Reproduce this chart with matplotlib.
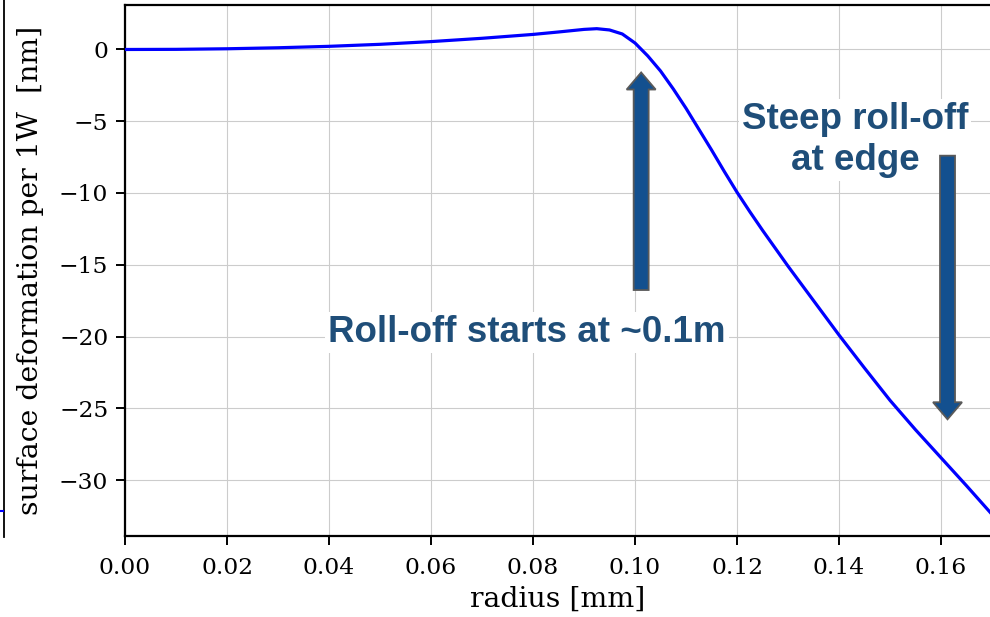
import matplotlib
matplotlib.use("Agg")
import matplotlib.pyplot as plt
from matplotlib.patches import FancyArrow
from matplotlib.lines import Line2D

# data
radius_mm = [0, 0.01, 0.02, 0.03, 0.04, 0.05, 0.06, 0.07, 0.08, 0.085, 0.09,
             0.0925, 0.095, 0.0975, 0.1, 0.1025, 0.105, 0.1075, 0.11, 0.1125,
             0.115, 0.1175, 0.12, 0.1225, 0.125, 0.13, 0.135, 0.14, 0.145, 0.15,
             0.155, 0.16, 0.165, 0.17]
deformation_nm = [0, 0.01, 0.05, 0.12, 0.22, 0.36, 0.55, 0.78, 1.05, 1.22, 1.40,
                  1.45, 1.36, 1.08, 0.45, -0.45, -1.5, -2.75, -4.1, -5.55,
                  -7.0, -8.5, -9.95, -11.3, -12.6, -15.1, -17.5, -19.9, -22.2, -24.45,
                  -26.5, -28.45, -30.4, -32.4]
xticks = [0.00, 0.02, 0.04, 0.06, 0.08, 0.10, 0.12, 0.14, 0.16]
yticks = [0, -5, -10, -15, -20, -25, -30]

text_color = "#1f4e79"
arrow_color = "#13508f"

fig = plt.figure(figsize=(9.9, 6.17), dpi=100)
ax = fig.add_axes([0.1263, 0.1313, 0.8737, 0.8606])

ax.plot(radius_mm, deformation_nm, color="#0000ff", lw=2.3, zorder=3)
ax.set_xlim(0, 0.1696)
ax.set_ylim(-33.9, 3.1)
ax.set_xticks(xticks)
ax.set_xticklabels([f"{v:.2f}" for v in xticks])
ax.set_yticks(yticks)
ax.set_yticklabels([f"{v:d}".replace("-", "\u2212") for v in yticks])
ax.grid(True, color="#cccccc", lw=0.8)
ax.set_axisbelow(True)
for s in ["left", "bottom", "top"]:
    ax.spines[s].set_linewidth(1.6)
ax.spines["right"].set_visible(False)
ax.tick_params(labelsize=16.8, width=1.4, length=6.5)
ax.tick_params(axis="x", pad=8.5)
ax.tick_params(axis="y", pad=5.5)
for lab in ax.get_xticklabels() + ax.get_yticklabels():
    lab.set_family("DejaVu Serif")
ax.set_xlabel("radius [mm]", fontsize=20.4, family="DejaVu Serif", labelpad=5)
ax.set_ylabel("surface deformation per 1W  [nm]", fontsize=20.4,
              family="DejaVu Serif", labelpad=11)

# block arrows (axis aligned, so width is in x units and length in y units)
def arrow(x, y0, y1):
    ax.add_patch(FancyArrow(x, y0, 0, y1 - y0, width=0.00294, head_width=0.00569,
                            head_length=1.19, length_includes_head=True,
                            facecolor=arrow_color, edgecolor="#595959", lw=1.3,
                            zorder=7))

arrow(0.1012, -16.76, -1.6)
arrow(0.16127, -7.4, -25.77)

ax.text(0.0788, -19.7, "Roll-off starts at ~0.1m", fontsize=26.5, fontweight="bold",
        family="Liberation Sans", color=text_color, ha="center", va="center",
        zorder=6, bbox=dict(facecolor="white", edgecolor="none", pad=2))
ax.text(0.1431, -6.3, "Steep roll-off\nat edge", fontsize=26.5, fontweight="bold",
        family="Liberation Sans", color=text_color, ha="center", va="center",
        linespacing=1.2, zorder=6, bbox=dict(facecolor="white", edgecolor="none", pad=2))

# remnant of neighbouring panel at the left edge
fig.add_artist(Line2D([3.5 / 990, 3.5 / 990], [1, 1 - 537 / 617], color="black", lw=1.3))
fig.add_artist(Line2D([0, 3 / 990], [1 - 511 / 617, 1 - 511 / 617], color="#0000ff", lw=1.5))

fig.savefig("out.png", dpi=100)
